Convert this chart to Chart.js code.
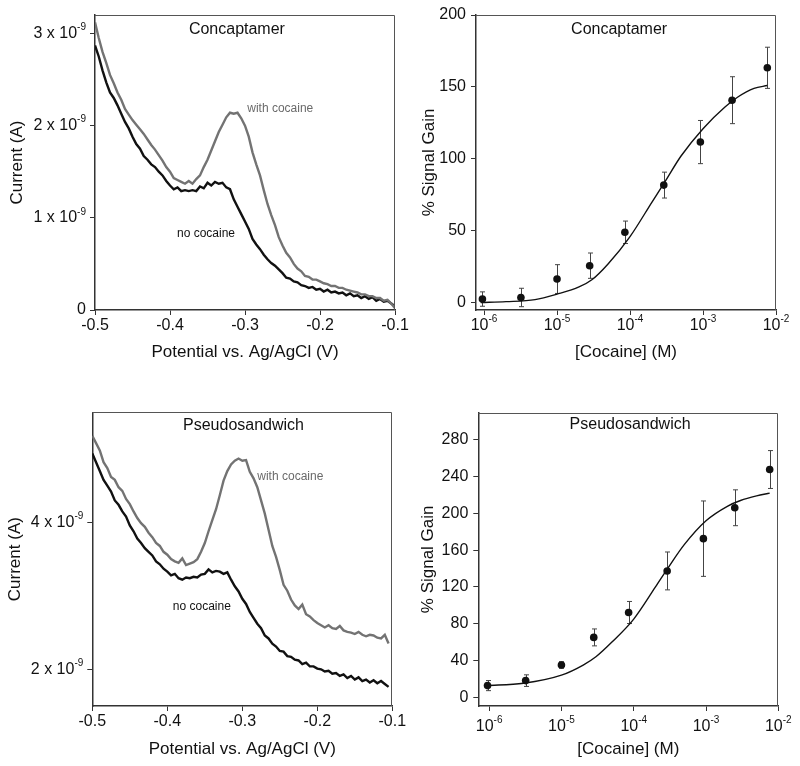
<!DOCTYPE html>
<html><head><meta charset="utf-8">
<script src="https://cdn.jsdelivr.net/npm/chart.js@4.4.1/dist/chart.umd.min.js"></script>
<style>
html,body{margin:0;padding:0;background:#fff;}
#wrap{position:relative;width:800px;height:766px;overflow:hidden;}
canvas{position:absolute;}
</style></head><body>
<div id="wrap">
<canvas id="c1" width="415" height="383" style="left:0;top:0"></canvas>
<canvas id="c3" width="415" height="383" style="left:0;top:383px"></canvas>
<canvas id="c2" width="400" height="383" style="left:400px;top:0"></canvas>
<canvas id="c4" width="400" height="383" style="left:400px;top:383px"></canvas>
</div>
<script>
// ---------- DATA ----------
const potentialTicks = [-0.5, -0.4, -0.3, -0.2, -0.1];

const potentialTop = [
-0.500,-0.495,-0.490,-0.485,-0.480,-0.475,-0.470,-0.465,-0.460,-0.455,
-0.450,-0.445,-0.440,-0.435,-0.430,-0.425,-0.420,-0.415,-0.410,-0.405,
-0.400,-0.395,-0.390,-0.385,-0.380,-0.375,-0.370,-0.365,-0.360,-0.355,
-0.350,-0.345,-0.340,-0.335,-0.330,-0.325,-0.320,-0.315,-0.310,-0.305,
-0.300,-0.295,-0.290,-0.285,-0.280,-0.275,-0.270,-0.265,-0.260,-0.255,
-0.250,-0.245,-0.240,-0.235,-0.230,-0.225,-0.220,-0.215,-0.210,-0.205,
-0.200,-0.195,-0.190,-0.185,-0.180,-0.175,-0.170,-0.165,-0.160,-0.155,
-0.150,-0.145,-0.140,-0.135,-0.130,-0.125,-0.120,-0.115,-0.110,-0.105,
-0.100];

const potentialBottom = [
-0.500,-0.495,-0.490,-0.485,-0.480,-0.475,-0.470,-0.465,-0.460,-0.455,
-0.450,-0.445,-0.440,-0.435,-0.430,-0.425,-0.420,-0.415,-0.410,-0.405,
-0.400,-0.395,-0.390,-0.385,-0.380,-0.375,-0.370,-0.365,-0.360,-0.355,
-0.350,-0.345,-0.340,-0.335,-0.330,-0.325,-0.320,-0.315,-0.310,-0.305,
-0.300,-0.295,-0.290,-0.285,-0.280,-0.275,-0.270,-0.265,-0.260,-0.255,
-0.250,-0.245,-0.240,-0.235,-0.230,-0.225,-0.220,-0.215,-0.210,-0.205,
-0.200,-0.195,-0.190,-0.185,-0.180,-0.175,-0.170,-0.165,-0.160,-0.155,
-0.150,-0.145,-0.140,-0.135,-0.130,-0.125,-0.120,-0.115,-0.110,-0.105];

// currents in units of 1e-9 A
const concaptamerWithCocaine = [
3.12,2.95,2.80,2.68,2.55,2.46,2.36,2.28,2.18,2.12,
2.06,2.01,1.96,1.91,1.85,1.79,1.74,1.68,1.62,1.55,
1.50,1.43,1.41,1.39,1.37,1.40,1.37,1.42,1.46,1.55,
1.63,1.73,1.83,1.93,2.01,2.09,2.14,2.13,2.14,2.08,
2.00,1.88,1.71,1.58,1.46,1.30,1.15,1.03,0.92,0.79,
0.70,0.62,0.57,0.50,0.45,0.42,0.37,0.36,0.33,0.33,
0.31,0.29,0.28,0.26,0.26,0.24,0.24,0.22,0.21,0.20,
0.19,0.17,0.17,0.15,0.15,0.13,0.13,0.10,0.11,0.07,
0.02];
const concaptamerNoCocaine = [
2.87,2.75,2.60,2.47,2.36,2.30,2.22,2.13,2.04,1.97,
1.88,1.80,1.75,1.67,1.63,1.58,1.55,1.50,1.46,1.40,
1.35,1.31,1.33,1.29,1.30,1.29,1.30,1.29,1.34,1.32,
1.38,1.35,1.39,1.37,1.38,1.33,1.31,1.20,1.12,1.04,
0.96,0.88,0.77,0.71,0.66,0.60,0.55,0.51,0.48,0.44,
0.40,0.35,0.34,0.31,0.30,0.27,0.26,0.24,0.25,0.22,
0.23,0.20,0.22,0.19,0.20,0.18,0.19,0.16,0.18,0.15,
0.16,0.13,0.15,0.12,0.14,0.10,0.12,0.09,0.10,0.07,
0.04];
const pseudoWithCocaine = [
5.18,5.08,4.98,4.82,4.74,4.62,4.58,4.48,4.43,4.32,
4.25,4.15,4.06,3.99,3.94,3.86,3.80,3.72,3.68,3.60,
3.56,3.50,3.47,3.45,3.51,3.42,3.44,3.46,3.50,3.60,
3.72,3.88,4.03,4.18,4.37,4.57,4.70,4.79,4.84,4.87,
4.84,4.85,4.69,4.60,4.48,4.30,4.12,3.90,3.68,3.53,
3.35,3.15,3.07,2.95,2.87,2.82,2.88,2.75,2.72,2.67,
2.63,2.60,2.57,2.60,2.56,2.55,2.59,2.53,2.51,2.50,
2.48,2.51,2.47,2.45,2.47,2.46,2.43,2.42,2.47,2.35];
const pseudoNoCocaine = [
4.94,4.82,4.70,4.58,4.50,4.42,4.30,4.24,4.15,4.08,
3.96,3.88,3.78,3.72,3.65,3.60,3.55,3.47,3.43,3.37,
3.33,3.28,3.30,3.24,3.22,3.25,3.24,3.26,3.25,3.29,
3.30,3.36,3.32,3.34,3.33,3.30,3.32,3.22,3.13,3.06,
2.96,2.89,2.78,2.70,2.62,2.56,2.46,2.42,2.35,2.31,
2.25,2.24,2.18,2.17,2.13,2.12,2.07,2.09,2.04,2.04,
2.01,2.00,1.97,1.98,1.94,1.95,1.91,1.93,1.88,1.91,
1.86,1.89,1.84,1.86,1.82,1.85,1.81,1.84,1.80,1.76];

const currentTicksTop = [0, 1, 2, 3];
const currentTicksBottom = [2, 4];
const currentExponent = '-9';

// titration data
const cocaineConc = [9.5e-7, 3.2e-6, 1.0e-5, 2.8e-5, 8.5e-5, 2.9e-4, 9.2e-4, 2.5e-3, 7.6e-3];
const concaptamerGain = [2.6, 3.7, 16.5, 25.8, 49.0, 81.8, 111.7, 140.8, 163.3];
const concaptamerErr  = [5.0, 6.4, 10.0, 8.8, 7.8, 9.0, 15.0, 16.3, 14.3];
const pseudoGain = [12.7, 18.1, 35.1, 65.1, 92.2, 137.4, 172.5, 206.1, 247.7];
const pseudoErr  = [5.5, 6.3, 3.6, 9.2, 12.0, 20.6, 41.0, 19.5, 20.6];

const concaptamerFitConc = [9e-7, 2e-6, 5e-6, 1e-5, 2e-5, 3e-5, 5e-5, 1e-4, 2e-4, 3e-4, 5e-4, 1e-3, 2e-3, 3e-3, 5e-3, 7.6e-3];
const concaptamerFit     = [0.2, 0.8, 2.2, 6.0, 11.0, 16.0, 27.0, 46.0, 70.0, 84.0, 102.0, 121.0, 136.0, 143.0, 149.0, 151.0];
const pseudoFitConc = [9e-7, 3e-6, 1e-5, 2e-5, 3e-5, 5e-5, 1e-4, 2e-4, 3e-4, 5e-4, 1e-3, 2e-3, 3e-3, 5e-3, 7.6e-3];
const pseudoFit     = [12.7, 15.2, 24.0, 35.0, 44.0, 60.0, 85.0, 120.0, 141.0, 166.0, 192.0, 208.0, 214.0, 219.0, 222.0];

const concExponents = [-6, -5, -4, -3, -2];
const gainTicksTop = [0, 50, 100, 150, 200];
const gainTicksBottom = [0, 40, 80, 120, 160, 200, 240, 280];

// ---------- STYLE ----------
const FONT = '"Liberation Sans", Arial, Helvetica, sans-serif';
Chart.defaults.font.family = FONT;
Chart.defaults.color = '#111';
const AX = '#333';
const GRAY = '#737373';

const extras = {
  id: 'extras',
  beforeDatasetsDraw(chart, args, o) {
    if (!o.errors) return;
    const {ctx} = chart, xs = chart.scales.x, ys = chart.scales.y;
    ctx.save();
    ctx.strokeStyle = '#444'; ctx.lineWidth = 1;
    o.errors.x.forEach((c, i) => {
      const px = Math.round(xs.getPixelForValue(c)) + 0.5;
      const t = ys.getPixelForValue(o.errors.y[i] + o.errors.e[i]);
      const b = ys.getPixelForValue(o.errors.y[i] - o.errors.e[i]);
      ctx.beginPath();
      ctx.moveTo(px, t); ctx.lineTo(px, b);
      ctx.moveTo(px - 2.5, t); ctx.lineTo(px + 2.5, t);
      ctx.moveTo(px - 2.5, b); ctx.lineTo(px + 2.5, b);
      ctx.stroke();
    });
    ctx.restore();
  },
  afterDraw(chart, args, o) {
    const {ctx, chartArea: a} = chart;
    const xs = chart.scales.x, ys = chart.scales.y;
    ctx.save();
    // top and right frame
    ctx.strokeStyle = '#555'; ctx.lineWidth = 1;
    ctx.beginPath();
    ctx.moveTo(a.left, Math.round(a.top) + 0.5);
    ctx.lineTo(Math.round(a.right) - 0.5, Math.round(a.top) + 0.5);
    ctx.lineTo(Math.round(a.right) - 0.5, a.bottom);
    ctx.stroke();
    // panel title
    ctx.fillStyle = '#111';
    ctx.font = '16px ' + FONT;
    ctx.textAlign = 'center'; ctx.textBaseline = 'middle';
    ctx.fillText(o.title, a.left + o.titlePos[0] * (a.right - a.left), a.top + o.titlePos[1] * (a.bottom - a.top));
    // notes in data coordinates
    (o.notes || []).forEach(n => {
      ctx.font = '12px ' + FONT;
      ctx.fillStyle = n.color;
      ctx.fillText(n.text, xs.getPixelForValue(n.x), ys.getPixelForValue(n.y));
    });
    // y tick labels with exponent
    if (o.expY) {
      o.expY.values.forEach(v => {
        const y = ys.getPixelForValue(v);
        const xr = a.left - 9;
        ctx.font = '10px ' + FONT;
        const ws = ctx.measureText(o.expY.exp).width;
        ctx.fillStyle = '#111';
        ctx.textAlign = 'right'; ctx.textBaseline = 'middle';
        ctx.font = '16px ' + FONT;
        ctx.fillText(v + ' x 10', xr - ws, y);
        ctx.font = '10px ' + FONT;
        ctx.textAlign = 'left';
        ctx.fillText(o.expY.exp, xr - ws, y - 6);
      });
    }
    // x tick labels 10^n
    if (o.expX) {
      o.expX.exps.forEach(e => {
        const px = xs.getPixelForValue(Math.pow(10, e));
        ctx.font = '16px ' + FONT;
        const w10 = ctx.measureText('10').width;
        ctx.font = '10px ' + FONT;
        const we = ctx.measureText(String(e)).width;
        const start = px - (w10 + we) / 2;
        ctx.fillStyle = '#111';
        ctx.textAlign = 'left'; ctx.textBaseline = 'middle';
        ctx.font = '16px ' + FONT;
        ctx.fillText('10', start, a.bottom + o.expX.dy);
        ctx.font = '10px ' + FONT;
        ctx.fillText(String(e), start + w10, a.bottom + o.expX.dy - 7);
      });
    }
    ctx.restore();
  }
};
Chart.register(extras);

function axisCommon() {
  return {
    grid: {display: true, drawOnChartArea: false, drawTicks: true, tickLength: 5, color: AX, lineWidth: 1},
    border: {display: true, color: AX, width: 1.5},
  };
}

function voltChart(id, p) {
  const mk = (xs, ys) => xs.map((x, i) => ({x: x, y: ys[i]}));
  return new Chart(document.getElementById(id), {
    type: 'line',
    data: {datasets: [
      {data: mk(p.x, p.withCoc), borderColor: GRAY, borderWidth: 2.4, pointRadius: 0, tension: 0, fill: false},
      {data: mk(p.x, p.noCoc), borderColor: '#111', borderWidth: 2.4, pointRadius: 0, tension: 0, fill: false},
    ]},
    options: {
      responsive: false, animation: false, devicePixelRatio: 1,
      layout: {padding: {top: p.pad[0], right: p.pad[1], bottom: 0, left: 0}},
      plugins: {legend: {display: false}, tooltip: {enabled: false},
        extras: {title: p.title, titlePos: p.titlePos, notes: p.notes,
                 expY: {values: p.yTicks.filter(v => v !== 0), exp: currentExponent}}},
      scales: {
        x: Object.assign(axisCommon(), {
          type: 'linear', min: -0.5, max: -0.1,
          afterBuildTicks: s => { s.ticks = potentialTicks.map(v => ({value: v})); },
          afterFit: s => { s.height = p.xH; },
          ticks: {font: {size: 16}, padding: 1, maxRotation: 0, minRotation: 0, color: '#111',
                  callback: v => v.toFixed(1)},
          title: {display: true, text: 'Potential vs. Ag/AgCl (V)', font: {size: 17}, color: '#111',
                  padding: {top: 0, bottom: p.xTitlePad}}
        }),
        y: Object.assign(axisCommon(), {
          type: 'linear', min: p.yMin, max: p.yMax,
          afterBuildTicks: s => { s.ticks = p.yTicks.map(v => ({value: v})); },
          afterFit: s => { s.width = p.yW; },
          ticks: {font: {size: 16}, padding: 4, color: '#111', callback: v => (v === 0 ? '0' : '')},
          title: {display: true, text: 'Current (A)', font: {size: 17}, color: '#111',
                  padding: {top: p.yTitlePad, bottom: 0}}
        })
      }
    }
  });
}

function gainChart(id, p) {
  const mk = (xs, ys) => xs.map((x, i) => ({x: x, y: ys[i]}));
  return new Chart(document.getElementById(id), {
    type: 'scatter',
    data: {datasets: [
      {data: mk(p.fitX, p.fitY), showLine: true, borderColor: '#111', borderWidth: 1.4, pointRadius: 0,
       cubicInterpolationMode: 'monotone', fill: false},
      {data: mk(cocaineConc, p.gain), showLine: false, pointRadius: 3.8, pointBackgroundColor: '#111',
       pointBorderWidth: 0, backgroundColor: '#111'}
    ]},
    options: {
      responsive: false, animation: false, devicePixelRatio: 1,
      layout: {padding: {top: p.pad[0], right: p.pad[1], bottom: 0, left: 0}},
      plugins: {legend: {display: false}, tooltip: {enabled: false},
        extras: {title: p.title, titlePos: p.titlePos,
                 errors: {x: cocaineConc, y: p.gain, e: p.err},
                 expX: {exps: concExponents, dy: p.expDy}}},
      scales: {
        x: Object.assign(axisCommon(), {
          type: 'logarithmic', min: p.xMin, max: 1e-2,
          afterBuildTicks: s => { s.ticks = concExponents.map(e => ({value: Math.pow(10, e)})); },
          afterFit: s => { s.height = p.xH; },
          ticks: {font: {size: 16}, padding: 1, maxRotation: 0, minRotation: 0, callback: () => ''},
          title: {display: true, text: '[Cocaine] (M)', font: {size: 17}, color: '#111',
                  padding: {top: 0, bottom: p.xTitlePad}}
        }),
        y: Object.assign(axisCommon(), {
          type: 'linear', min: p.yMin, max: p.yMax,
          afterBuildTicks: s => { s.ticks = p.yTicks.map(v => ({value: v})); },
          afterFit: s => { s.width = p.yW; },
          ticks: {font: {size: 16}, padding: 5, color: '#111', callback: v => String(v)},
          title: {display: true, text: '% Signal Gain', font: {size: 17}, color: '#111',
                  padding: {top: p.yTitlePad, bottom: 0}}
        })
      }
    }
  });
}

voltChart('c1', {
  x: potentialTop, withCoc: concaptamerWithCocaine, noCoc: concaptamerNoCocaine,
  pad: [15, 20], xH: 73, yW: 95, yMin: 0, yMax: 3.2, yTicks: currentTicksTop,
  xTitlePad: 20, yTitlePad: 7, title: 'Concaptamer', titlePos: [0.473, 0.05],
  notes: [{text: 'with cocaine', x: -0.253, y: 2.18, color: '#6a6a6a'},
          {text: 'no cocaine', x: -0.352, y: 0.83, color: '#111'}]
});
voltChart('c3', {
  x: potentialBottom, withCoc: pseudoWithCocaine, noCoc: pseudoNoCocaine,
  pad: [29.3, 22.7], xH: 60, yW: 92.3, yMin: 1.5, yMax: 5.5, yTicks: currentTicksBottom,
  xTitlePad: 6, yTitlePad: 5, title: 'Pseudosandwich', titlePos: [0.504, 0.045],
  notes: [{text: 'with cocaine', x: -0.236, y: 4.62, color: '#6a6a6a'},
          {text: 'no cocaine', x: -0.354, y: 2.85, color: '#111'}]
});
gainChart('c2', {
  fitX: concaptamerFitConc, fitY: concaptamerFit, gain: concaptamerGain, err: concaptamerErr,
  pad: [15, 24], xH: 73, yW: 76, xMin: 7.76e-7, yMin: -5, yMax: 200, yTicks: gainTicksTop,
  xTitlePad: 20, yTitlePad: 19, expDy: 16, title: 'Concaptamer', titlePos: [0.477, 0.05]
});
gainChart('c4', {
  fitX: pseudoFitConc, fitY: pseudoFit, gain: pseudoGain, err: pseudoErr,
  pad: [29.7, 21.7], xH: 60, yW: 78.3, xMin: 7.08e-7, yMin: -9.5, yMax: 309.5, yTicks: gainTicksBottom,
  xTitlePad: 6, yTitlePad: 18, expDy: 21, title: 'Pseudosandwich', titlePos: [0.506, 0.04]
});
</script>
</body></html>
